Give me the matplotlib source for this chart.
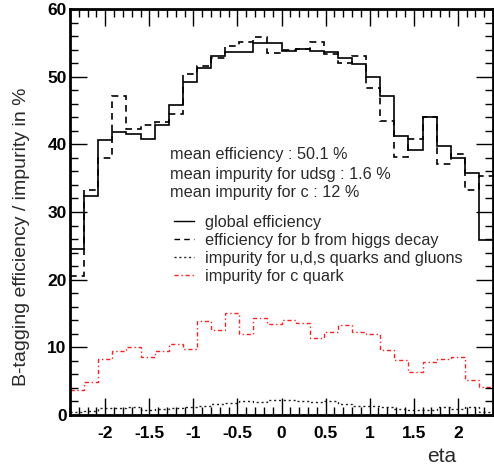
import numpy as np
import matplotlib.pyplot as plt
from matplotlib.ticker import MultipleLocator

plt.rcParams['font.family'] = ['Liberation Sans', 'DejaVu Sans']

# =============================
# Data (30 bins in eta)
# =============================

eta_lo, eta_hi, n_bins = -2.4, 2.4, 30

global_eff = [24.5, 32.3, 40.6, 41.8, 41.5, 40.8, 42.8, 45.8, 49.2, 51.3,
              53.0, 53.6, 53.7, 55.0, 55.0, 53.8, 54.1, 53.8, 53.6, 52.8,
              51.9, 50.0, 47.1, 41.3, 39.2, 44.0, 39.7, 38.0, 35.8, 25.9]

b_higgs_eff = [20.6, 33.3, 38.0, 47.2, 42.2, 42.9, 43.3, 44.5, 50.4, 51.6,
               52.8, 54.5, 55.1, 55.8, 53.5, 54.0, 54.1, 55.1, 53.3, 52.0,
               53.1, 48.3, 43.5, 38.1, 40.8, 44.0, 37.1, 38.5, 33.2, 35.3]

udsg_imp = [0.4, 0.6, 1.0, 1.0, 1.2, 0.8, 0.95, 1.1, 1.25, 1.4,
            1.6, 1.7, 2.1, 1.9, 2.2, 2.2, 2.0, 1.9, 2.0, 1.6,
            1.4, 1.4, 1.2, 0.95, 0.7, 0.8, 1.2, 0.95, 1.2, 0.4]

c_imp = [3.7, 4.9, 8.3, 9.4, 10.1, 8.5, 9.4, 10.5, 9.8, 13.9,
         12.5, 15.1, 11.9, 14.4, 13.5, 14.1, 13.6, 11.4, 12.3, 13.3,
         12.3, 11.9, 9.6, 8.1, 6.4, 7.8, 8.3, 8.6, 5.1, 4.2]

summary = ["mean efficiency : 50.1 %",
           "mean impurity for udsg : 1.6 %",
           "mean impurity for c : 12 %"]

labels = ["global efficiency",
          "efficiency for b from higgs decay",
          "impurity for u,d,s quarks and gluons",
          "impurity for c quark"]

# =============================
# Plot
# =============================

edges = np.linspace(eta_lo, eta_hi, n_bins + 1)
text_col = '#2a2a2a'

fig = plt.figure(figsize=(4.94, 4.68), dpi=100)
ax = fig.add_axes([70 / 494, 1 - 415 / 468, 423 / 494, 406 / 468])

ax.stairs(global_eff, edges, baseline=None, color='black', lw=1.2, ls='-', label=labels[0])
ax.stairs(b_higgs_eff, edges, baseline=None, color='black', lw=1.2, ls=(0, (4, 3)), label=labels[1])
ax.stairs(udsg_imp, edges, baseline=None, color='#222222', lw=1.0, ls=(0, (1.5, 2)), label=labels[2])
ax.stairs(c_imp, edges, baseline=None, color='#ff2020', lw=1.0, ls=(0, (3, 2, 1, 2)), label=labels[3])

ax.set_xlim(eta_lo, eta_hi)
ax.set_ylim(0, 60)

ax.xaxis.set_major_locator(MultipleLocator(0.5))
ax.xaxis.set_minor_locator(MultipleLocator(0.1))
ax.yaxis.set_major_locator(MultipleLocator(10))
ax.yaxis.set_minor_locator(MultipleLocator(2))
ax.tick_params(which='both', direction='in', top=True, right=True, width=1.0)
ax.tick_params(which='major', length=12, labelsize=12.5)
ax.tick_params(which='minor', length=6)
ax.tick_params(axis='x', which='major', pad=8)
ax.tick_params(axis='y', which='major', pad=2.5)
ax.set_xticks([-2, -1.5, -1, -0.5, 0, 0.5, 1, 1.5, 2])
ax.set_xticklabels(['-2', '-1.5', '-1', '-0.5', '0', '0.5', '1', '1.5', '2'], fontweight='bold')
for lab in ax.get_yticklabels():
    lab.set_fontweight('bold')

for sp in ax.spines.values():
    sp.set_linewidth(2)

fig.text(22 / 494, 1 - 237 / 468, "B-tagging efficiency / impurity in %", fontsize=14,
         rotation=90, ha='center', va='center', color=text_col)
fig.text(456 / 494, 1 - 456 / 468, "eta", fontsize=15, ha='right', va='center', color=text_col)

for i, s in enumerate(summary):
    fig.text(170 / 494, 1 - (155 + 19 * i) / 468, s, fontsize=11.7, va='center', color=text_col)

leg = ax.legend(loc='upper left', bbox_to_anchor=(166 / 494, 1 - 207 / 468),
                bbox_transform=fig.transFigure, frameon=False, fontsize=11.7,
                handlelength=1.25, handletextpad=0.65, labelspacing=0.18, borderpad=0)
for t in leg.get_texts():
    t.set_color(text_col)
for h in leg.get_lines() + leg.get_patches():
    h.set_linewidth(1.0)

fig.savefig("out.png", dpi=100)
